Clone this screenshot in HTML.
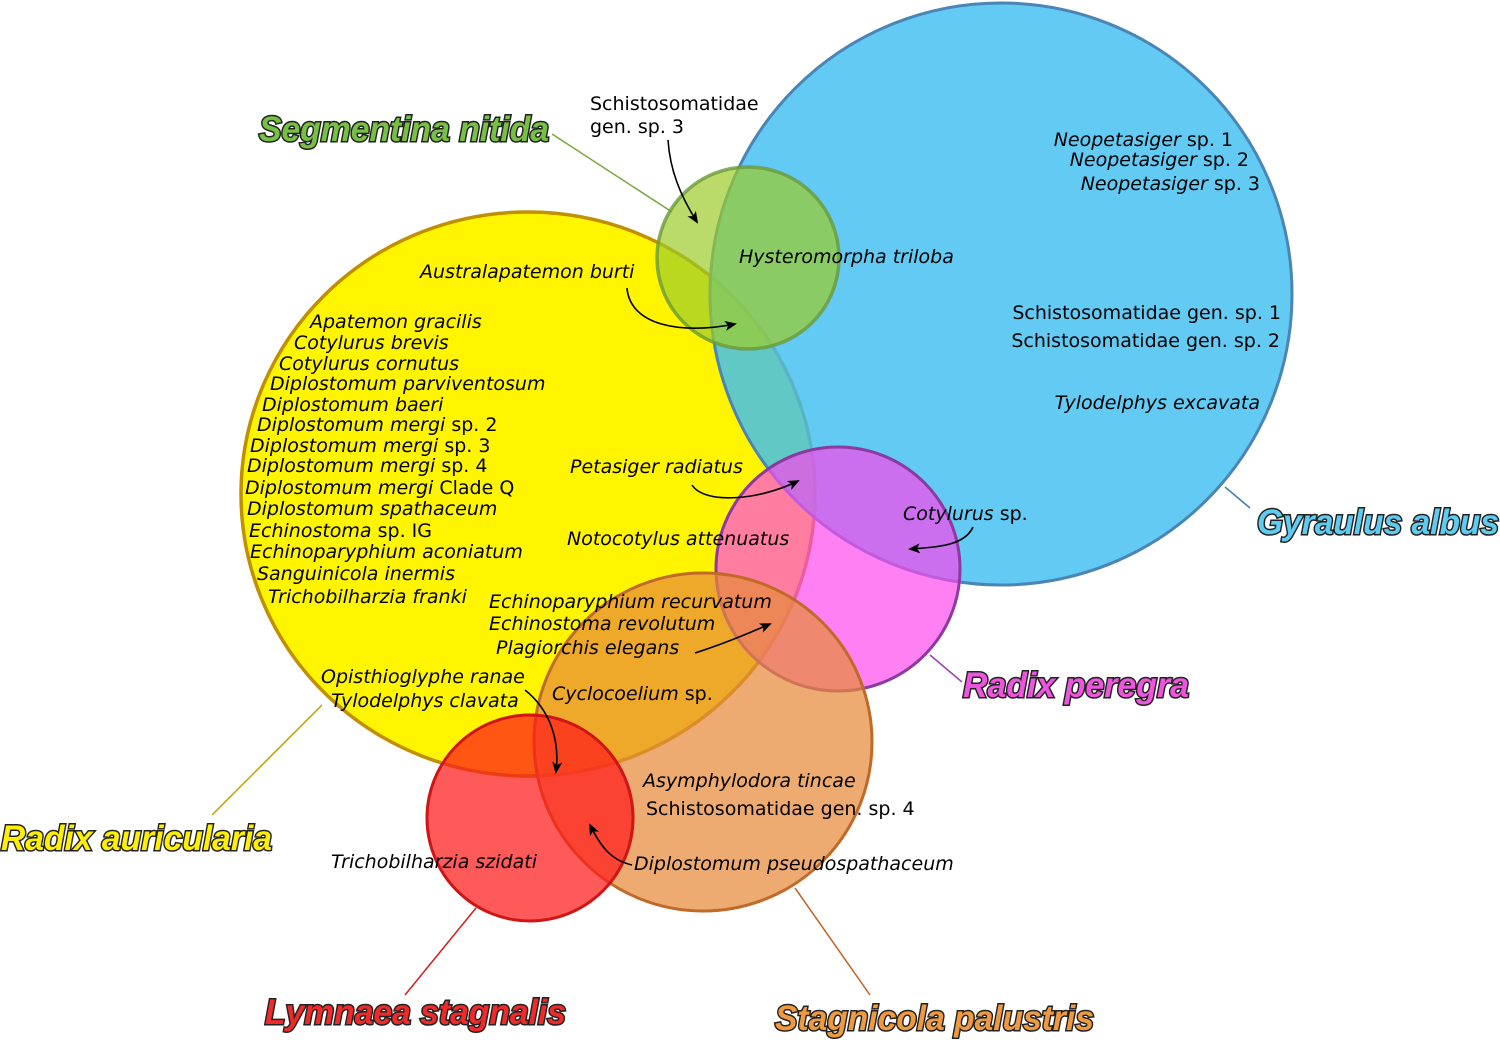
<!DOCTYPE html>
<html><head><meta charset="utf-8"><style>
body{margin:0;background:#fff}
svg{display:block}
.s{font-family:"DejaVu Sans","Liberation Sans",sans-serif;font-size:19px;font-style:italic;fill:#000}
.n{font-family:"DejaVu Sans","Liberation Sans",sans-serif;font-size:19px;fill:#000}
.L{font-family:"Liberation Sans",sans-serif;font-weight:bold;font-style:italic;font-size:35px;stroke:#222;stroke-width:3px;paint-order:stroke;}
.a{fill:none;stroke:#000;stroke-width:1.6}
</style></head><body>
<svg width="1500" height="1040" viewBox="0 0 1500 1040">
<defs><marker id="m" markerWidth="12" markerHeight="10" refX="10" refY="5" orient="auto" markerUnits="userSpaceOnUse"><path d="M0,0 L12,5 L0,10 L3,5z" fill="#000"/></marker></defs>
<line x1="552" y1="134" x2="672" y2="212" stroke="#77a83a" stroke-width="1.5"/>
<line x1="1225" y1="487" x2="1250" y2="508" stroke="#3a7fae" stroke-width="1.5"/>
<line x1="930" y1="655" x2="962" y2="682" stroke="#a040b0" stroke-width="1.5"/>
<line x1="322" y1="705" x2="212" y2="815" stroke="#c0a000" stroke-width="1.5"/>
<line x1="476" y1="908" x2="405" y2="995" stroke="#d02020" stroke-width="1.5"/>
<line x1="795" y1="888" x2="870" y2="995" stroke="#c06020" stroke-width="1.5"/>
<ellipse cx="528" cy="494" rx="287" ry="282" fill="#fff500" stroke="#c09000" stroke-width="3.5"/>
<circle cx="1001" cy="294" r="291" fill="#3fbef0" fill-opacity="0.82" stroke="#4a85b5" stroke-width="3"/>
<circle cx="748" cy="258" r="91" fill="#9ccc2a" fill-opacity="0.7" stroke="#6a9a3a" stroke-width="3.5" stroke-opacity="0.8"/>
<circle cx="838" cy="569" r="122" fill="#ff44ee" fill-opacity="0.68" stroke="#8a3aa0" stroke-width="3"/>
<circle cx="703" cy="742" r="169" fill="#e88a3a" fill-opacity="0.72" stroke="#c06a2a" stroke-width="3"/>
<circle cx="530" cy="818" r="103" fill="#ff1a1a" fill-opacity="0.72" stroke="#d01515" stroke-width="3"/>
<path class="a" d="M668,140 C670,170 680,195 697,222" marker-end="url(#m)"/>
<path class="a" d="M627,288 C630,325 680,335 735,324" marker-end="url(#m)"/>
<path class="a" d="M692,485 C705,505 760,500 798,481" marker-end="url(#m)"/>
<path class="a" d="M973,527 C965,545 940,547 910,549" marker-end="url(#m)"/>
<path class="a" d="M695,653 C720,645 745,635 770,624" marker-end="url(#m)"/>
<path class="a" d="M525,690 C550,710 560,740 556,772" marker-end="url(#m)"/>
<path class="a" d="M632,865 C610,860 600,845 590,825" marker-end="url(#m)"/>
<g class="n"><text x="590" y="110">Schistosomatidae</text><text x="590" y="133">gen. sp. 3</text></g>
<text class="s" x="739" y="263">Hysteromorpha triloba</text>
<text class="s" x="420" y="278">Australapatemon burti</text>
<g class="s" text-anchor="end">
<text x="1233" y="146"><tspan>Neopetasiger</tspan><tspan font-style="normal"> sp. 1</tspan></text>
<text x="1249" y="166"><tspan>Neopetasiger</tspan><tspan font-style="normal"> sp. 2</tspan></text>
<text x="1260" y="190"><tspan>Neopetasiger</tspan><tspan font-style="normal"> sp. 3</tspan></text>
</g>
<g class="n" text-anchor="end"><text x="1281" y="319">Schistosomatidae gen. sp. 1</text><text x="1280" y="347">Schistosomatidae gen. sp. 2</text></g>
<text class="s" x="1260" y="409" text-anchor="end">Tylodelphys excavata</text>
<g class="s">
<text x="310" y="328">Apatemon gracilis</text>
<text x="294" y="349">Cotylurus brevis</text>
<text x="279" y="370">Cotylurus cornutus</text>
<text x="270" y="390">Diplostomum parviventosum</text>
<text x="262" y="411">Diplostomum baeri</text>
<text x="257" y="431">Diplostomum mergi<tspan font-style="normal"> sp. 2</tspan></text>
<text x="250" y="452">Diplostomum mergi<tspan font-style="normal"> sp. 3</tspan></text>
<text x="247" y="472">Diplostomum mergi<tspan font-style="normal"> sp. 4</tspan></text>
<text x="245" y="494">Diplostomum mergi<tspan font-style="normal"> Clade Q</tspan></text>
<text x="247" y="515">Diplostomum spathaceum</text>
<text x="249" y="537">Echinostoma<tspan font-style="normal"> sp. IG</tspan></text>
<text x="250" y="558">Echinoparyphium aconiatum</text>
<text x="257" y="580">Sanguinicola inermis</text>
<text x="268" y="603">Trichobilharzia franki</text>
<text x="570" y="473">Petasiger radiatus</text>
<text x="567" y="545">Notocotylus attenuatus</text>
<text x="903" y="520">Cotylurus<tspan font-style="normal"> sp.</tspan></text>
<text x="489" y="608">Echinoparyphium recurvatum</text>
<text x="489" y="630">Echinostoma revolutum</text>
<text x="496" y="654">Plagiorchis elegans</text>
<text x="321" y="683">Opisthioglyphe ranae</text>
<text x="331" y="707">Tylodelphys clavata</text>
<text x="552" y="700">Cyclocoelium<tspan font-style="normal"> sp.</tspan></text>
<text x="643" y="787">Asymphylodora tincae</text>
<text x="331" y="868">Trichobilharzia szidati</text>
<text x="634" y="870">Diplostomum pseudospathaceum</text>
</g>
<text class="n" x="646" y="815">Schistosomatidae gen. sp. 4</text>
<text class="L" x="259" y="141" fill="#77c043" textLength="290" lengthAdjust="spacingAndGlyphs">Segmentina nitida</text>
<text class="L" x="1257" y="534" fill="#5ecbf0" textLength="242" lengthAdjust="spacingAndGlyphs">Gyraulus albus</text>
<text class="L" x="963" y="697" fill="#ee55dd" textLength="226" lengthAdjust="spacingAndGlyphs">Radix peregra</text>
<text class="L" x="1" y="850" fill="#fff000" textLength="271" lengthAdjust="spacingAndGlyphs">Radix auricularia</text>
<text class="L" x="265" y="1024" fill="#ee2a2a" textLength="301" lengthAdjust="spacingAndGlyphs">Lymnaea stagnalis</text>
<text class="L" x="775" y="1030" fill="#f09a40" textLength="319" lengthAdjust="spacingAndGlyphs">Stagnicola palustris</text>
</svg>
</body></html>
